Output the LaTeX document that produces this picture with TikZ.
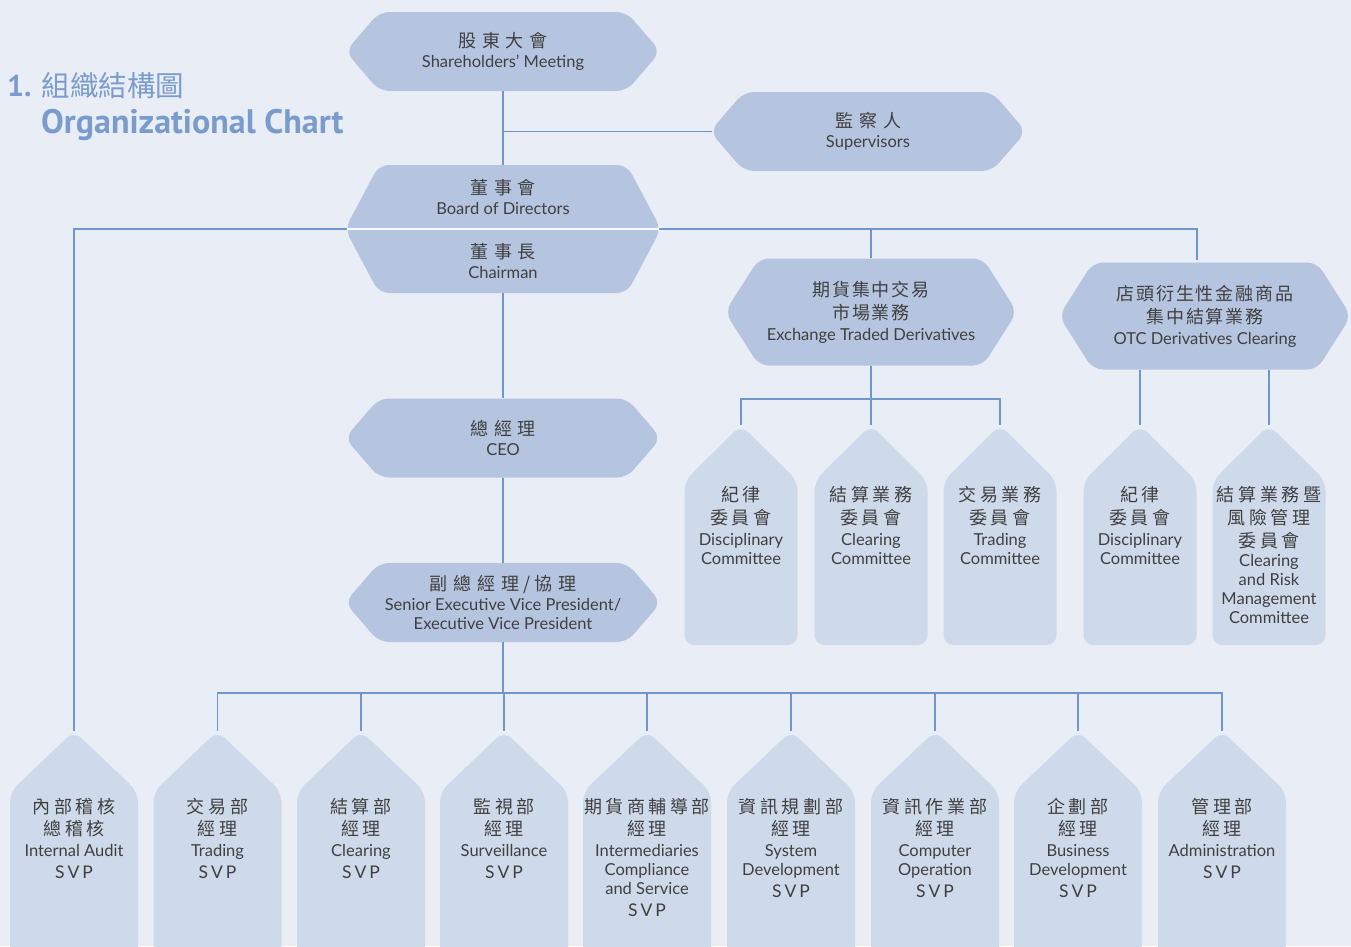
\documentclass[tikz,border=0pt]{standalone}
\usepackage{fontspec}
\setmainfont{Lato}
\newfontfamily\cjk[LetterSpace=20]{Noto Sans CJK TC}
\newfontfamily\cjkn[LetterSpace=10]{Noto Sans CJK TC}
\newfontfamily\cjkt{Noto Sans CJK TC}
\newfontfamily\titlefont{PT Sans}
\usetikzlibrary{calc}

\definecolor{bgblue}{RGB}{232,237,246}
\definecolor{hexfill}{RGB}{181,197,224}
\definecolor{tagfill}{RGB}{206,218,234}
\definecolor{linkblue}{RGB}{112,150,204}
\definecolor{titleblue}{RGB}{122,156,204}
\definecolor{txtgray}{RGB}{64,64,64}

% chinese line (optional gap below), narrow chinese line, spaced SVP
\newcommand{\zh}[2][4pt]{{\cjk\fontsize{18}{20}\selectfont #2}\\[#1]}
\newcommand{\zhn}[2][4pt]{{\cjkn\fontsize{18}{20}\selectfont #2}\\[#1]}
\newcommand{\gp}{\hspace{6pt}}
\newcommand{\svp}{\\[3pt]{\fontsize{17.5}{20}\selectfont S\kern3pt V\kern3pt P}}

% hexagon box: name, cx, cy, half width, half height, text
\newcommand{\hexbox}[6]{%
  \fill[hexfill, rounded corners=10] (#2-#4-2,#3) -- (#2-#4+32,#3-#5) -- (#2+#4-32,#3-#5) -- (#2+#4+2,#3) -- (#2+#4-32,#3+#5) -- (#2-#4+32,#3+#5) -- cycle;
  \node[hexnode, minimum width=2*#4, minimum height=2*#5] (#1) at (#2,#3) {#6};}

% tag box: name, cx, apex y, half width, shoulder y, bottom y, text top, text
\newcommand{\tagbox}[8]{%
  \fill[tagfill, rounded corners=10] (#2,#3) -- (#2+#4,#5) -- (#2+#4,#6) -- (#2-#4,#6) -- (#2-#4,#5) -- cycle;
  \coordinate (#1-top) at (#2,#3);
  \node[tagtext] (#1) at (#2,#7) {#8};}

\tikzset{
  hexnode/.style={inner sep=0pt, align=center, text=txtgray, font=\fontsize{16.5}{19}\selectfont},
  tagtext/.style={anchor=north, inner sep=0pt, align=center, text=txtgray, font=\fontsize{16.5}{19}\selectfont},
  link/.style={draw=linkblue, line width=1.2pt},
}

\begin{document}
\begin{tikzpicture}[x=1pt,y=1pt,yscale=-1,xscale=1]
\useasboundingbox (0,0) rectangle (1351,946);
\fill[bgblue] (0,0) rectangle (1351,946);

% title
\node[anchor=west, inner sep=0pt, text=titleblue, font=\titlefont\bfseries\fontsize{30}{34}\selectfont] (ttl) at (7,86) {1. {\mdseries\cjkt\fontsize{28.5}{30}\selectfont 組織結構圖}};
\node[anchor=west, inner sep=0pt, text=titleblue, font=\titlefont\bfseries\fontsize{34}{38}\selectfont] (ttl-en) at (41,125) {Organizational Chart};

% top boxes
\hexbox{sh}{503}{51.5}{155.5}{39.5}{\zh[1pt]{股\gp 東\gp 大\gp 會}Shareholders' Meeting}
\hexbox{sup}{868}{131.5}{156}{39.5}{\zh[1pt]{監\gp 察\gp 人}Supervisors}
\hexbox{bod}{503}{229}{156}{64}{\zh[1pt]{董\gp 事\gp 會}Board of Directors\\[25pt]\zh[1pt]{董\gp 事\gp 長}Chairman}
\hexbox{etd}{871}{312}{144}{53.5}{\zhn{期貨集中交易}\zhn[2pt]{市場業務}Exchange Traded Derivatives}
\hexbox{otc}{1205}{316}{144}{53.5}{\zhn{店頭衍生性金融商品}\zhn[2pt]{集中結算業務}OTC Derivatives Clearing}
\hexbox{ceo}{503}{438}{156}{39.5}{\zh[1pt]{總\gp 經\gp 理}CEO}
\hexbox{sevp}{503}{602.5}{156}{39.5}{\zh[1pt]{副\gp 總\gp 經\gp 理\hspace{4pt}/\hspace{4pt}協\gp 理}Senior Executive Vice President/\\Executive Vice President}

% committees
\tagbox{dc1}{741}{425}{56.5}{481}{645}{486}{\zh{紀律}\zh[2pt]{委員會}Disciplinary\\Committee}
\tagbox{cc}{871}{425}{56.5}{481}{645}{486}{\zh{結算業務}\zh[2pt]{委員會}Clearing\\Committee}
\tagbox{tc}{1000}{425}{56.5}{481}{645}{486}{\zh{交易業務}\zh[2pt]{委員會}Trading\\Committee}
\tagbox{dc2}{1140}{425}{56.5}{481}{645}{486}{\zh{紀律}\zh[2pt]{委員會}Disciplinary\\Committee}
\tagbox{crm}{1269}{425}{56.5}{481}{645}{486}{\zh{結算業務暨}\zh{風險管理}\zh[0pt]{委員會}Clearing\\and Risk\\Management\\Committee}

% departments
\tagbox{ia}{74}{731}{64}{792}{990}{798}{\zh[3pt]{內部稽核}\zh[2pt]{總稽核}Internal Audit\svp}
\tagbox{tr}{217.5}{731}{64}{792}{990}{798}{\zh[3pt]{交易部}\zh[2pt]{經理}Trading\svp}
\tagbox{cl}{361}{731}{64}{792}{990}{798}{\zh[3pt]{結算部}\zh[2pt]{經理}Clearing\svp}
\tagbox{sv}{504}{731}{64}{792}{990}{798}{\zh[3pt]{監視部}\zh[2pt]{經理}Surveillance\svp}
\tagbox{im}{647}{731}{64}{792}{990}{798}{\zh[3pt]{期貨商輔導部}\zh[2pt]{經理}Intermediaries\\Compliance\\and Service\svp}
\tagbox{sd}{791}{731}{64}{792}{990}{798}{\zh[3pt]{資訊規劃部}\zh[2pt]{經理}System\\Development\svp}
\tagbox{co}{935}{731}{64}{792}{990}{798}{\zh[3pt]{資訊作業部}\zh[2pt]{經理}Computer\\Operation\svp}
\tagbox{bd}{1078}{731}{64}{792}{990}{798}{\zh[3pt]{企劃部}\zh[2pt]{經理}Business\\Development\svp}
\tagbox{ad}{1222}{731}{64}{792}{990}{798}{\zh[3pt]{管理部}\zh[2pt]{經理}Administration\svp}

% connectors
\coordinate (otc-in) at (1197,260);
\coordinate (etd-bus) at (871,399);
\coordinate (svp-bus) at (503,693);
\draw[link] (sh.south) -- (bod.north);
\draw[link] (sh.south |- sup.west) -- (sup.west);
\draw[link] (ia-top) |- (bod.west);
\draw[link] (bod.east) -| (otc-in);
\draw[link] (etd.north |- bod.east) -- (etd.north);
\draw[link] (bod.south) -- (ceo.north);
\draw[link] (ceo.south) -- (sevp.north);
\draw[link] (etd.south) -- (cc-top);
\draw[link] (dc1-top) |- (etd-bus) -| (tc-top);
\draw[link] (otc.south -| dc2-top) -- (dc2-top);
\draw[link] (otc.south -| crm-top) -- (crm-top);
\draw[link] (sevp.south) -- (svp-bus);
\draw[link] (tr-top) |- (svp-bus) -| (ad-top);
\foreach \d in {cl,sv,im,sd,co,bd}
  \draw[link] (\d-top) -- (\d-top |- svp-bus);
% white split of board / chairman
\draw[white, line width=2pt] (bod.west) -- (bod.east);
\end{tikzpicture}
\end{document}
